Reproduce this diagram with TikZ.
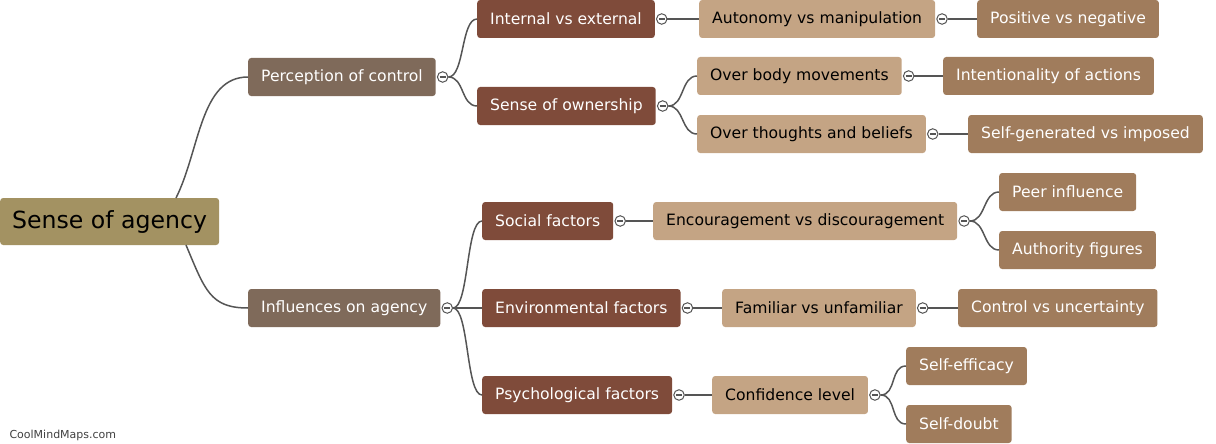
\documentclass[tikz,border=0pt]{standalone}
\usepackage{fontspec}
\setmainfont{DejaVu Sans}
\definecolor{rootc}{HTML}{A39262}
\definecolor{onec}{HTML}{7F6A5A}
\definecolor{twoc}{HTML}{7F4B3A}
\definecolor{threec}{HTML}{C4A484}
\definecolor{fourc}{HTML}{A07C5C}
\definecolor{linkc}{HTML}{555555}
\newcommand\mmlink[2]{\draw[link] (#1.east) .. controls +(16,0) and +(-16,0) .. (#2.west);}
\begin{document}
\begin{tikzpicture}[
  x=1pt,y=-1pt,
  mmbox/.style={rounded corners=3pt, anchor=west, minimum height=38, inner xsep=13, font=\fontsize{15.6}{18}\selectfont},
  rootbox/.style={mmbox, fill=rootc, minimum height=47, inner xsep=12, font=\fontsize{23.6}{26}\selectfont},
  lvlone/.style={mmbox, fill=onec, text=white},
  lvltwo/.style={mmbox, fill=twoc, text=white},
  lvlthree/.style={mmbox, fill=threec, text=black},
  lvlfour/.style={mmbox, fill=fourc, text=white},
  fold/.style={circle, draw=linkc, fill=white, line width=1, minimum size=10.5, inner sep=0, anchor=west,
    path picture={\draw[linkc, line width=1.1] ([xshift=-3]path picture bounding box.center) -- ([xshift=3]path picture bounding box.center);}},
  link/.style={draw=linkc, line width=1.5}
]
\useasboundingbox (0,0) rectangle (1216,444);

% root and first level
\node[rootbox] (root) at (0,221.5) {Sense of agency};
\node[lvlone] (pc) at (248,77) {Perception of control};
\node[lvlone] (ia) at (248,308) {Influences on agency};
\draw[link] (176,198) .. controls (200,150) and (200,77) .. (pc.west);
\draw[link] (186,245) .. controls (205,290) and (210,308) .. (ia.west);

% perception of control
\node[lvltwo] (ie) at (477,19) {Internal vs external};
\node[lvltwo] (so) at (477,106) {Sense of ownership};
\node[lvlthree] (am) at (699,19) {Autonomy vs manipulation};
\node[lvlfour] (pn) at (977,19) {Positive vs negative};
\node[lvlthree] (bm) at (697,76) {Over body movements};
\node[lvlfour] (io) at (943,76) {Intentionality of actions};
\node[lvlthree] (tb) at (697,134) {Over thoughts and beliefs};
\node[lvlfour] (sg) at (968,134) {Self-generated vs imposed};

% influences on agency
\node[lvltwo] (sf) at (482,221) {Social factors};
\node[lvltwo] (ef) at (482,308) {Environmental factors};
\node[lvltwo] (pf) at (482,395) {Psychological factors};
\node[lvlthree] (ed) at (653,221) {Encouragement vs discouragement};
\node[lvlfour] (pi) at (999,192) {Peer influence};
\node[lvlfour] (af) at (999,250) {Authority figures};
\node[lvlthree] (fu) at (722,308) {Familiar vs unfamiliar};
\node[lvlfour] (cu) at (958,308) {Control vs uncertainty};
\node[lvlthree] (cl) at (712,395) {Confidence level};
\node[lvlfour] (se) at (906,366) {Self-efficacy};
\node[lvlfour] (sd) at (906,424) {Self-doubt};

% fold markers
\foreach \n in {pc,ia,ie,so,am,bm,tb,sf,ed,ef,fu,pf,cl}
  \node[fold] (f\n) at ([xshift=1]\n.east) {};

% links
\mmlink{fpc}{ie}
\mmlink{fpc}{so}
\mmlink{fie}{am}
\mmlink{fam}{pn}
\mmlink{fso}{bm}
\mmlink{fso}{tb}
\mmlink{fbm}{io}
\mmlink{ftb}{sg}
\mmlink{fia}{sf}
\mmlink{fia}{ef}
\mmlink{fia}{pf}
\mmlink{fsf}{ed}
\mmlink{fed}{pi}
\mmlink{fed}{af}
\mmlink{fef}{fu}
\mmlink{ffu}{cu}
\mmlink{fpf}{cl}
\mmlink{fcl}{se}
\mmlink{fcl}{sd}

\node[anchor=west, text=black!75, font=\fontsize{11}{12}\selectfont] (wm) at (6,435) {CoolMindMaps.com};
\end{tikzpicture}
\end{document}
